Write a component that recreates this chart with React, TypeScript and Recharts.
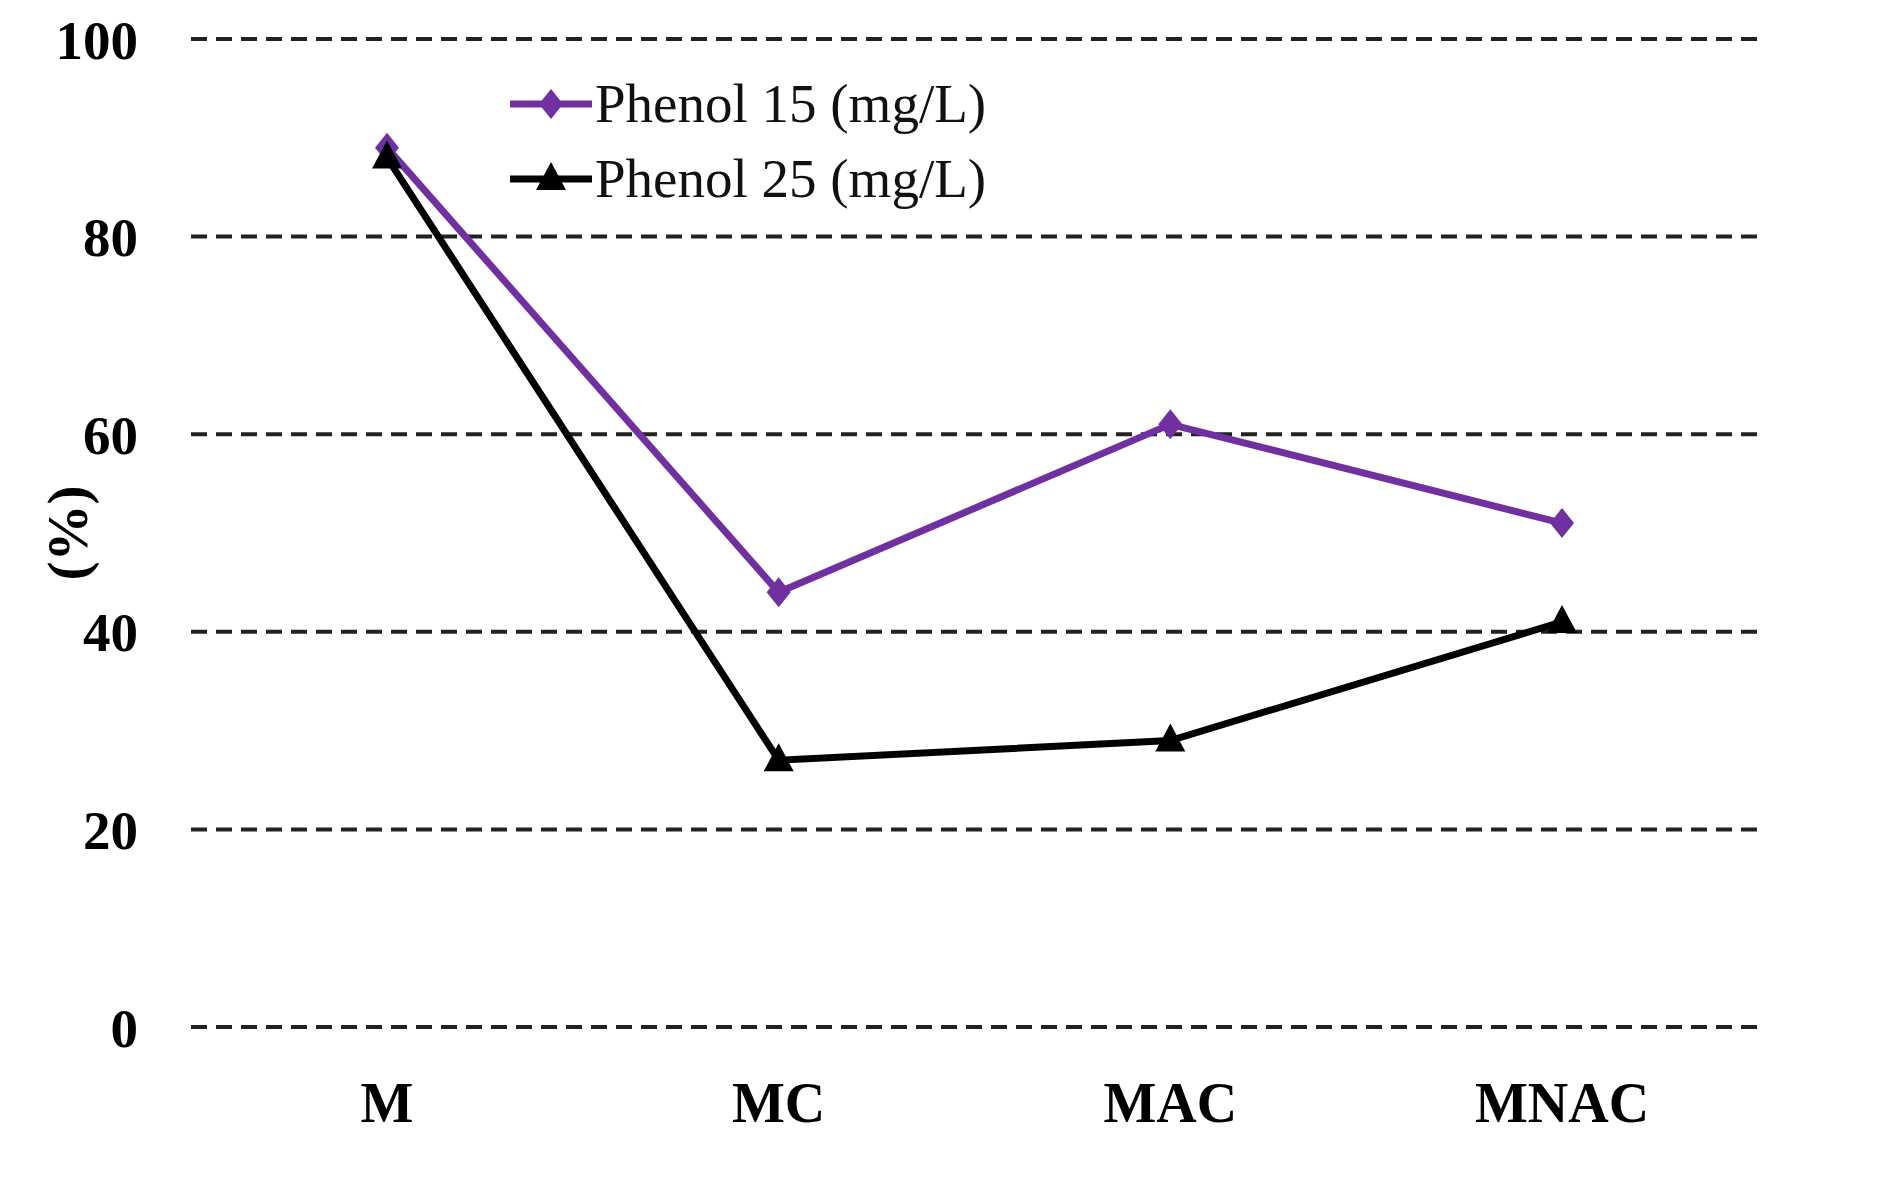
import React from "react";
import {
  LineChart,
  Line,
  XAxis,
  YAxis,
  CartesianGrid,
  Legend,
  Label,
} from "recharts";

const categories = ["M", "MC", "MAC", "MNAC"];
const phenol15 = [89, 44, 61, 51];
const phenol25 = [88, 27, 29, 41];
const yTicks = [0, 20, 40, 60, 80, 100];

const PURPLE = "#7030A0";
const FONT = "'Liberation Serif', 'Times New Roman', serif";

const data = categories.map((name, i) => ({
  name,
  p15: phenol15[i],
  p25: phenol25[i],
}));

function diamondPath(cx: number, cy: number) {
  return `M${cx},${cy - 15}L${cx + 12},${cy}L${cx},${cy + 15}L${cx - 12},${cy}Z`;
}

function trianglePath(cx: number, cy: number) {
  return `M${cx},${cy - 17}L${cx + 15},${cy + 11}L${cx - 15},${cy + 11}Z`;
}

const DiamondDot = (props: any) => {
  const { cx, cy, index } = props;
  if (cx == null || cy == null) return <g key={`d${index}`} />;
  return <path key={`d${index}`} d={diamondPath(cx, cy)} fill={PURPLE} />;
};

const TriangleDot = (props: any) => {
  const { cx, cy, index } = props;
  if (cx == null || cy == null) return <g key={`t${index}`} />;
  return <path key={`t${index}`} d={trianglePath(cx, cy)} fill="#000" />;
};

const legendItems = [
  { label: "Phenol 15 (mg/L)", color: PURPLE, shape: "diamond" },
  { label: "Phenol 25 (mg/L)", color: "#000", shape: "triangle" },
];

function renderLegend() {
  return (
    <div>
      {legendItems.map((item) => (
        <div
          key={item.label}
          style={{ display: "flex", alignItems: "center", height: 75 }}
        >
          <svg width={82} height={36}>
            <line x1={0} y1={18} x2={82} y2={18} stroke={item.color} strokeWidth={7} />
            <path
              d={item.shape === "diamond" ? diamondPath(41, 18) : trianglePath(41, 18)}
              fill={item.color}
            />
          </svg>
          <span
            style={{
              fontFamily: FONT,
              fontSize: 55,
              color: "#111",
              marginLeft: 3,
              whiteSpace: "nowrap",
              lineHeight: 1,
            }}
          >
            {item.label}
          </span>
        </div>
      ))}
    </div>
  );
}

const renderYLabel = (props: any) => {
  const vb = props.viewBox || {};
  const x = (vb.x || 0) + 57;
  const y = (vb.y || 0) + (vb.height || 0) / 2;
  return (
    <text
      x={x}
      y={y}
      transform={`rotate(-90, ${x}, ${y})`}
      textAnchor="middle"
      dominantBaseline="central"
      fontFamily={FONT}
      fontWeight="bold"
      fontSize={57}
      fill="#000"
    >
      (%)
    </text>
  );
};

export default function App() {
  return (
    <div style={{ position: "absolute", left: 0, top: 0, background: "#fff" }}>
      <LineChart
        width={1899}
        height={1189}
        data={data}
        margin={{ top: 39, right: 141, bottom: 42, left: 10 }}
      >
        <CartesianGrid
          vertical={false}
          stroke="#222"
          strokeWidth={4}
          strokeDasharray="16 9"
        />
        <XAxis
          dataKey="name"
          axisLine={false}
          tickLine={false}
          tickSize={0}
          tickMargin={55}
          height={120}
          padding={{ left: 196, right: 196 }}
          tick={{ fontFamily: FONT, fontSize: 56, fontWeight: "bold", fill: "#000" }}
        />
        <YAxis
          domain={[0, 100]}
          ticks={yTicks}
          axisLine={false}
          tickLine={false}
          tickSize={0}
          tickMargin={53}
          width={181}
          tick={{ fontFamily: FONT, fontSize: 55, fontWeight: "bold", fill: "#000" }}
        >
          <Label content={renderYLabel} />
        </YAxis>
        <Legend
          layout="vertical"
          align="center"
          verticalAlign="middle"
          content={renderLegend}
          wrapperStyle={{ top: 66, left: 510, width: "auto", height: "auto" }}
        />
        <Line
          type="linear"
          dataKey="p15"
          stroke={PURPLE}
          strokeWidth={7}
          dot={DiamondDot}
          activeDot={false}
          isAnimationActive={false}
        />
        <Line
          type="linear"
          dataKey="p25"
          stroke="#000"
          strokeWidth={7}
          dot={TriangleDot}
          activeDot={false}
          isAnimationActive={false}
        />
      </LineChart>
    </div>
  );
}
